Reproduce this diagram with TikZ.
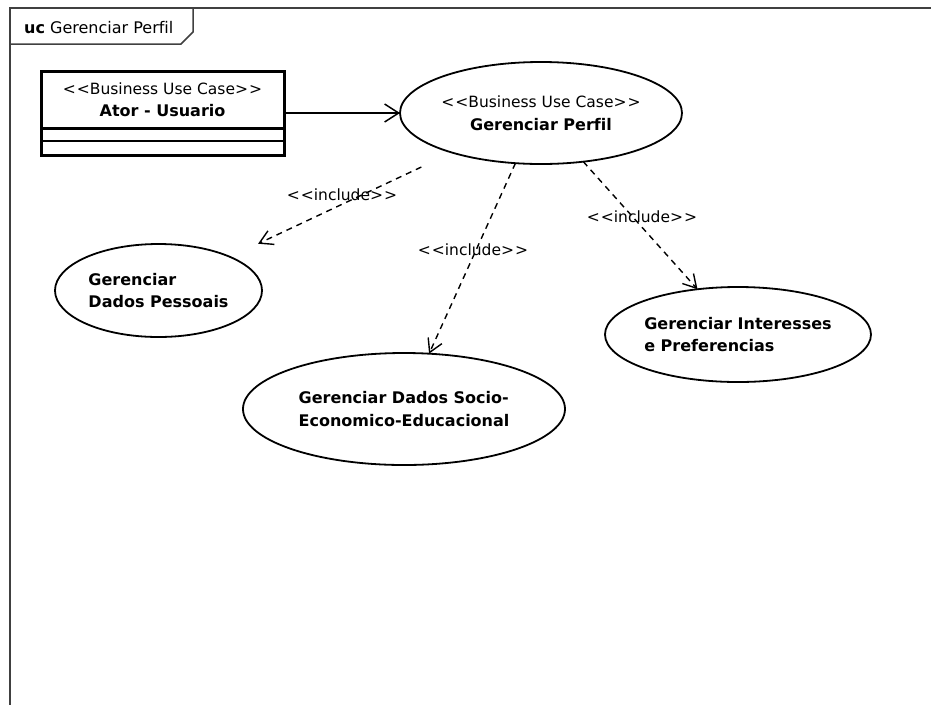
\documentclass[tikz,border=0pt]{standalone}
\usepackage{fontspec}
\setmainfont{DejaVu Sans}[Ligatures=NoCommon]
\usetikzlibrary{shapes.geometric,arrows.meta}
% doubled angle brackets, kept apart so they are not merged into guillemets
\newcommand\dlt{<\kern1pt<}
\newcommand\dgt{>\kern1pt>}
% stereotype text set in the regular weight
\newcommand\stereotxt[1]{{\fontsize{15.5}{22.5}\selectfont\mdseries #1}}
\begin{document}
\begin{tikzpicture}[x=1pt,y=-1pt,
  framepen/.style={draw=black!75,line width=2pt},
  usecase/.style={ellipse,draw,line width=1.8pt,inner sep=-10pt,outer sep=0pt,
    align=left,font=\fontsize{16}{22.5}\selectfont\bfseries},
  classhead/.style={rectangle,draw,line width=3pt,outer sep=0pt,inner sep=0pt,
    minimum width=243pt,minimum height=57pt,align=center,
    font=\fontsize{16}{22.5}\selectfont\bfseries},
  assoc/.style={draw,line width=1.5pt,-{Straight Barb[length=14pt,width=18pt,line width=1.5pt]}},
  incl/.style={draw,line width=1.4pt,dash pattern=on 6pt off 5pt,
    -{Straight Barb[length=13pt,width=15pt,line width=1.4pt]}},
  incllabel/.style={font=\fontsize{15.5}{17}\selectfont,inner sep=0pt}]
\useasboundingbox (0,0) rectangle (931,705);

% diagram frame with its name tab
\draw[framepen] (931,8) -- (10,8) -- (10,705);
\draw[line width=1.5pt,draw=black!75] (10,8) -- (193,8) -- (193,32) -- (181,44) -- (10,44);
\node[anchor=west,inner sep=0pt,font=\fontsize{16}{18}\selectfont] (tab) at (24,28)
  {\textbf{uc} Gerenciar Perfil};

% actor class with two empty compartments
\node[classhead] (ator) at (162.5,99.5) {\stereotxt{\dlt Business Use Case\dgt}\\Ator - Usuario};
\draw[line width=3pt] (ator.south west) rectangle ++(243,27);
\draw[line width=2pt] ([yshift=-13pt]ator.south west) -- ([yshift=-13pt]ator.south east);

% use cases
\node[usecase,align=center,minimum width=282pt,minimum height=102pt] (perfil) at (541,113)
  {\stereotxt{\dlt Business Use Case\dgt}\\Gerenciar Perfil};
\node[usecase,minimum width=207pt,minimum height=93pt] (pessoais) at (158.5,290.5)
  {Gerenciar\\Dados Pessoais};
\node[usecase,minimum width=322pt,minimum height=112pt] (socio) at (404,409)
  {Gerenciar Dados Socio-\\Economico-Educacional};
\node[usecase,minimum width=266pt,minimum height=95pt] (interesses) at (738,334.5)
  {Gerenciar Interesses\\e Preferencias};

% association
\draw[assoc] (ator.east |- perfil.west) -- (perfil.west);

% include dependencies
\draw[incl,shorten <=34pt,shorten >=31pt] (perfil.204.6) -- (pessoais);
\draw[incl] (perfil.243.4) -- (socio);
\draw[incl] (perfil.311.5) -- (interesses);

\node[incllabel] (l1) at (342,195) {\dlt include\dgt};
\node[incllabel] (l2) at (473,250) {\dlt include\dgt};
\node[incllabel] (l3) at (642,217) {\dlt include\dgt};
\end{tikzpicture}
\end{document}
